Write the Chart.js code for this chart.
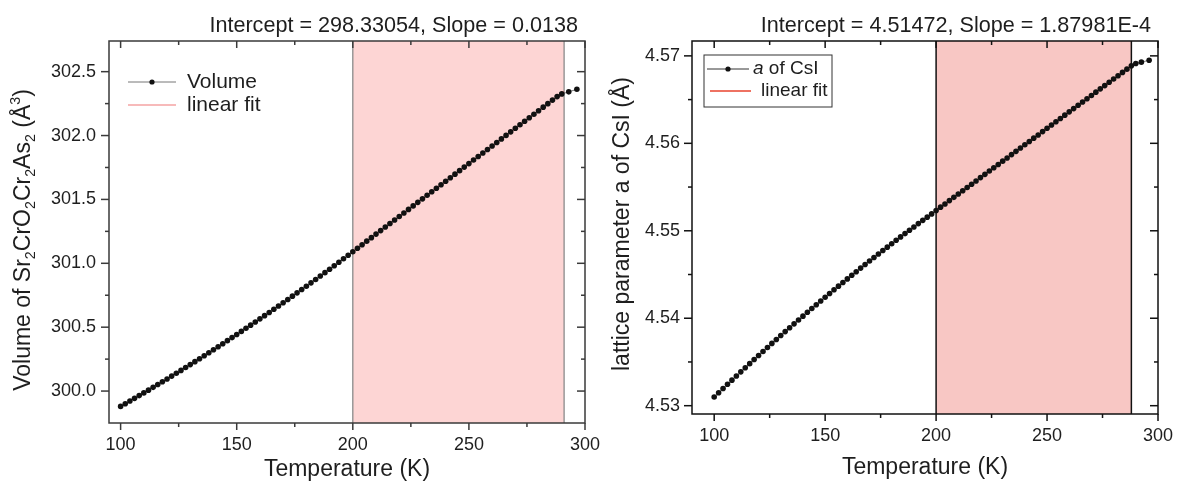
<!DOCTYPE html>
<html>
<head>
<meta charset="utf-8">
<script src="https://cdn.jsdelivr.net/npm/chart.js@4.4.0/dist/chart.umd.min.js"></script>
<style>
  html, body { margin: 0; padding: 0; background: #fff; }
  #wrapL { position: absolute; left: 0; top: 0; width: 600px; height: 491px; }
  #wrapR { position: absolute; left: 600px; top: 0; width: 578px; height: 491px; }
</style>
</head>
<body>
<div id="wrapL"><canvas id="volChart" width="600" height="491"></canvas></div>
<div id="wrapR"><canvas id="latChart" width="578" height="491"></canvas></div>
<script>
// ---- left panel: cell volume ----
const tempVol = [100,102,104,106,108,110,112,114,116,118,120,122,124,126,128,130,132,134,136,138,
  140,142,144,146,148,150,152,154,156,158,160,162,164,166,168,170,172,174,176,178,
  180,182,184,186,188,190,192,194,196,198,200,202,204,206,208,210,212,214,216,218,
  220,222,224,226,228,230,232,234,236,238,240,242,244,246,248,250,252,254,256,258,
  260,262,264,266,268,270,272,274,276,278,280,282,284,286,288,290,293,296.5];
const volume = [299.8800,299.9009,299.9219,299.9430,299.9643,299.9857,300.0072,300.0289,300.0508,300.0727,
  300.0948,300.1170,300.1394,300.1619,300.1845,300.2073,300.2302,300.2533,300.2764,300.2997,
  300.3232,300.3468,300.3705,300.3944,300.4184,300.4425,300.4668,300.4912,300.5157,300.5404,
  300.5652,300.5901,300.6152,300.6405,300.6658,300.6913,300.7169,300.7427,300.7686,300.7946,
  300.8208,300.8471,300.8736,300.9001,300.9268,300.9537,300.9807,301.0078,301.0351,301.0625,
  301.0905,301.1181,301.1457,301.1733,301.2009,301.2285,301.2561,301.2837,301.3113,301.3389,
  301.3665,301.3941,301.4217,301.4493,301.4769,301.5045,301.5321,301.5597,301.5873,301.6149,
  301.6425,301.6701,301.6977,301.7253,301.7529,301.7805,301.8081,301.8357,301.8633,301.8909,
  301.9185,301.9461,301.9737,302.0013,302.0289,302.0565,302.0841,302.1117,302.1393,302.1669,
  302.1945,302.2221,302.2497,302.2773,302.3049,302.3260,302.3420,302.3620];
const volFitT = [200, 291];
const volFit = [301.0905, 302.3463];
const volTicksY = [300.0, 300.5, 301.0, 301.5, 302.0, 302.5];
const volMinorY = [300.25, 300.75, 301.25, 301.75, 302.25];

// ---- right panel: lattice parameter a of CsI ----
const tempLat = [100,102,104,106,108,110,112,114,116,118,120,122,124,126,128,130,132,134,136,138,
  140,142,144,146,148,150,152,154,156,158,160,162,164,166,168,170,172,174,176,178,
  180,182,184,186,188,190,192,194,196,198,200,202,204,206,208,210,212,214,216,218,
  220,222,224,226,228,230,232,234,236,238,240,242,244,246,248,250,252,254,256,258,
  260,262,264,266,268,270,272,274,276,278,280,282,284,286,288,290,292.5,296];
const latticeA = [4.53100,4.53148,4.53197,4.53245,4.53292,4.53340,4.53387,4.53434,4.53481,4.53528,
  4.53574,4.53620,4.53666,4.53712,4.53757,4.53802,4.53847,4.53892,4.53936,4.53980,
  4.54024,4.54068,4.54111,4.54154,4.54197,4.54240,4.54282,4.54325,4.54367,4.54408,
  4.54450,4.54491,4.54532,4.54573,4.54614,4.54654,4.54694,4.54734,4.54774,4.54813,
  4.54852,4.54891,4.54930,4.54968,4.55006,4.55044,4.55082,4.55119,4.55156,4.55193,
  4.55232,4.55270,4.55307,4.55345,4.55382,4.55420,4.55457,4.55495,4.55532,4.55570,
  4.55608,4.55645,4.55683,4.55720,4.55758,4.55796,4.55833,4.55871,4.55908,4.55946,
  4.55984,4.56021,4.56059,4.56096,4.56134,4.56172,4.56209,4.56247,4.56284,4.56322,
  4.56360,4.56397,4.56435,4.56472,4.56510,4.56547,4.56585,4.56623,4.56660,4.56698,
  4.56735,4.56773,4.56811,4.56848,4.56886,4.56912,4.56928,4.56950];
const latFitT = [200, 288];
const latFit = [4.55232, 4.56886];
const latTicksY = [4.53, 4.54, 4.55, 4.56, 4.57];
const latMinorY = [4.535, 4.545, 4.555, 4.565];

const tempTicks = [100, 150, 200, 250, 300];
const tempMinor = [125, 175, 225, 275];

const FONT = '"Liberation Sans", Arial, sans-serif';
const TXT = '#1e1e1e';

function line(ctx, x1, y1, x2, y2) {
  ctx.beginPath(); ctx.moveTo(x1, y1); ctx.lineTo(x2, y2); ctx.stroke();
}

// vertical (rotated) text made of runs, for sub/superscripts
function drawVertical(ctx, parts, baseX, centerY, size) {
  ctx.save();
  ctx.translate(baseX, centerY);
  ctx.rotate(-Math.PI / 2);
  ctx.fillStyle = TXT;
  ctx.textBaseline = 'alphabetic';
  ctx.textAlign = 'left';
  const runs = parts.map(p => {
    const s = (p.sub || p.sup) ? size * 0.62 : size;
    ctx.font = `${p.it ? 'italic ' : ''}${s}px ${FONT}`;
    return { p, s, w: ctx.measureText(p.t).width };
  });
  let u = -runs.reduce((a, r) => a + r.w, 0) / 2;
  runs.forEach(r => {
    ctx.font = `${r.p.it ? 'italic ' : ''}${r.s}px ${FONT}`;
    const dv = r.p.sub ? size * 0.22 : r.p.sup ? -size * 0.42 : 0;
    ctx.fillText(r.p.t, u, dv);
    u += r.w;
  });
  ctx.restore();
}

function panelPlugin(cfg) {
  return {
    id: 'panel',
    beforeDatasetsDraw(chart) {
      const { ctx, chartArea: a } = chart;
      const x = chart.scales.x;
      const x1 = x.getPixelForValue(cfg.band[0]);
      const x2 = x.getPixelForValue(cfg.band[1]);
      ctx.save();
      ctx.fillStyle = cfg.bandFill;
      ctx.fillRect(x1, a.top, x2 - x1, a.bottom - a.top);
      ctx.strokeStyle = cfg.bandEdge;
      ctx.lineWidth = cfg.bandEdgeWidth;
      line(ctx, x1, a.top, x1, a.bottom);
      line(ctx, x2, a.top, x2, a.bottom);
      ctx.restore();
    },
    afterDraw(chart) {
      const { ctx, chartArea: a } = chart;
      const xs = chart.scales.x, ys = chart.scales.y;
      ctx.save();
      // frame
      ctx.strokeStyle = cfg.frame;
      ctx.lineWidth = 1.5;
      ctx.strokeRect(a.left, a.top, a.right - a.left, a.bottom - a.top);
      // ticks: outward on left/bottom, inward on top/right
      cfg.xMajor.forEach(v => {
        const p = xs.getPixelForValue(v);
        line(ctx, p, a.bottom, p, a.bottom + 7);
        line(ctx, p, a.top, p, a.top + 7);
      });
      cfg.xMinor.forEach(v => {
        const p = xs.getPixelForValue(v);
        line(ctx, p, a.bottom, p, a.bottom + 4);
        line(ctx, p, a.top, p, a.top + 4);
      });
      cfg.yMajor.forEach(v => {
        const p = ys.getPixelForValue(v);
        line(ctx, a.left - 8, p, a.left, p);
        line(ctx, a.right - 8, p, a.right, p);
      });
      cfg.yMinor.forEach(v => {
        const p = ys.getPixelForValue(v);
        line(ctx, a.left - 4, p, a.left, p);
        line(ctx, a.right - 4, p, a.right, p);
      });

      // fit result title
      ctx.fillStyle = TXT;
      ctx.font = `21.6px ${FONT}`;
      ctx.textAlign = 'right';
      ctx.textBaseline = 'alphabetic';
      ctx.fillText(cfg.title, a.right - 7, 32);

      // x axis title
      ctx.font = `23px ${FONT}`;
      ctx.textAlign = 'center';
      ctx.textBaseline = 'middle';
      ctx.fillText('Temperature (K)', (a.left + a.right) / 2, cfg.xTitleY);

      // y axis title
      drawVertical(ctx, cfg.yTitle, cfg.yTitleX, cfg.yTitleCY, 23);

      // legend
      const lg = cfg.legend;
      if (lg.box) {
        ctx.strokeStyle = '#333';
        ctx.lineWidth = 1;
        ctx.strokeRect(lg.box[0], lg.box[1], lg.box[2], lg.box[3]);
      }
      ctx.textAlign = 'left';
      ctx.textBaseline = 'middle';
      lg.items.forEach(it => {
        ctx.strokeStyle = it.color;
        ctx.lineWidth = it.width;
        line(ctx, it.x1, it.y, it.x2, it.y);
        if (it.dot) {
          ctx.fillStyle = '#111';
          ctx.beginPath();
          ctx.arc((it.x1 + it.x2) / 2, it.y, 2.6, 0, Math.PI * 2);
          ctx.fill();
        }
        ctx.fillStyle = TXT;
        let tx = it.tx;
        it.text.forEach(r => {
          ctx.font = `${r.it ? 'italic ' : ''}${lg.size}px ${FONT}`;
          ctx.fillText(r.t, tx, it.y);
          tx += ctx.measureText(r.t).width;
        });
      });
      ctx.restore();
    }
  };
}

function noPad(s) {
  s.paddingLeft = 0; s.paddingRight = 0; s.paddingTop = 0; s.paddingBottom = 0;
}

function makeChart(id, opt) {
  const pts = opt.t.map((t, i) => ({ x: t, y: opt.v[i] }));
  const fit = opt.fitT.map((t, i) => ({ x: t, y: opt.fitV[i] }));
  return new Chart(document.getElementById(id), {
    type: 'scatter',
    data: {
      datasets: [
        {
          label: opt.label,
          data: pts,
          showLine: true,
          borderColor: '#555',
          borderWidth: 0.8,
          pointRadius: 2.8,
          pointBackgroundColor: '#111',
          pointBorderWidth: 0,
          order: 0
        },
        {
          label: 'linear fit',
          data: fit,
          showLine: true,
          borderColor: opt.fitColor,
          borderWidth: 1.5,
          pointRadius: 0,
          order: 1
        }
      ]
    },
    options: {
      responsive: false,
      animation: false,
      events: [],
      layout: { padding: { top: 41, right: opt.padRight, left: 0, bottom: 0 } },
      plugins: { legend: { display: false }, tooltip: { enabled: false } },
      scales: {
        x: {
          type: 'linear',
          min: opt.xMin,
          max: 300,
          afterBuildTicks: s => { s.ticks = tempTicks.map(v => ({ value: v })); },
          afterFit: s => { s.height = opt.xHeight; noPad(s); },
          grid: { display: false, drawTicks: false },
          border: { display: false },
          ticks: { padding: opt.xPad, color: TXT, font: { family: FONT, size: 18 }, maxRotation: 0, callback: v => v }
        },
        y: {
          type: 'linear',
          min: opt.yMin,
          max: opt.yMax,
          afterBuildTicks: s => { s.ticks = opt.yTicks.map(v => ({ value: v })); },
          afterFit: s => { s.width = opt.yWidth; noPad(s); },
          grid: { display: false, drawTicks: false },
          border: { display: false },
          ticks: { padding: opt.yPad, color: TXT, font: { family: FONT, size: 18 }, callback: v => v.toFixed(opt.dec) }
        }
      }
    },
    plugins: [panelPlugin(opt.panel)]
  });
}

makeChart('volChart', {
  t: tempVol, v: volume, fitT: volFitT, fitV: volFit, label: 'Volume',
  fitColor: '#f08f8f', xMin: 95, yMin: 299.75, yMax: 302.74,
  yTicks: volTicksY, dec: 1, padRight: 15, xHeight: 68, yWidth: 109, xPad: 11, yPad: 13,
  panel: {
    band: [200, 291], bandFill: '#fdd5d4', bandEdge: '#8a8a8a', bandEdgeWidth: 1.3,
    frame: '#3a3a3a', xMajor: tempTicks, xMinor: tempMinor, yMajor: volTicksY, yMinor: volMinorY,
    title: 'Intercept = 298.33054, Slope = 0.0138',
    xTitleY: 470, yTitleX: 30, yTitleCY: 240,
    yTitle: [{ t: 'Volume of Sr' }, { t: '2', sub: 1 }, { t: 'CrO' }, { t: '2', sub: 1 }, { t: 'Cr' }, { t: '2', sub: 1 },
      { t: 'As' }, { t: '2', sub: 1 }, { t: ' (Å' }, { t: '3', sup: 1 }, { t: ')' }],
    legend: {
      size: 21,
      items: [
        { x1: 128, x2: 176, y: 82, color: '#777', width: 1, dot: true, tx: 187, text: [{ t: 'Volume' }] },
        { x1: 128, x2: 176, y: 105, color: '#f4a3a3', width: 1.5, tx: 187, text: [{ t: 'linear fit' }] }
      ]
    }
  }
});

makeChart('latChart', {
  t: tempLat, v: latticeA, fitT: latFitT, fitV: latFit, label: 'a of CsI',
  fitColor: '#e8432e', xMin: 90, yMin: 4.52905, yMax: 4.5717,
  yTicks: latTicksY, dec: 2, padRight: 20, xHeight: 77, yWidth: 92, xPad: 11, yPad: 12,
  panel: {
    band: [200, 288], bandFill: '#f8c7c4', bandEdge: '#111', bandEdgeWidth: 1.5,
    frame: '#111', xMajor: tempTicks, xMinor: tempMinor, yMajor: latTicksY, yMinor: latMinorY,
    title: 'Intercept = 4.51472, Slope = 1.87981E-4',
    xTitleY: 468, yTitleX: 29, yTitleCY: 224,
    yTitle: [{ t: 'lattice parameter a of CsI (Å)' }],
    legend: {
      size: 19,
      box: [104, 55, 128, 52],
      items: [
        { x1: 107, x2: 149, y: 69, color: '#333', width: 1, dot: true, tx: 153, text: [{ t: 'a', it: 1 }, { t: ' of CsI' }] },
        { x1: 110, x2: 151, y: 91, color: '#e8432e', width: 1.5, tx: 161, text: [{ t: 'linear fit' }] }
      ]
    }
  }
});
</script>
</body>
</html>
